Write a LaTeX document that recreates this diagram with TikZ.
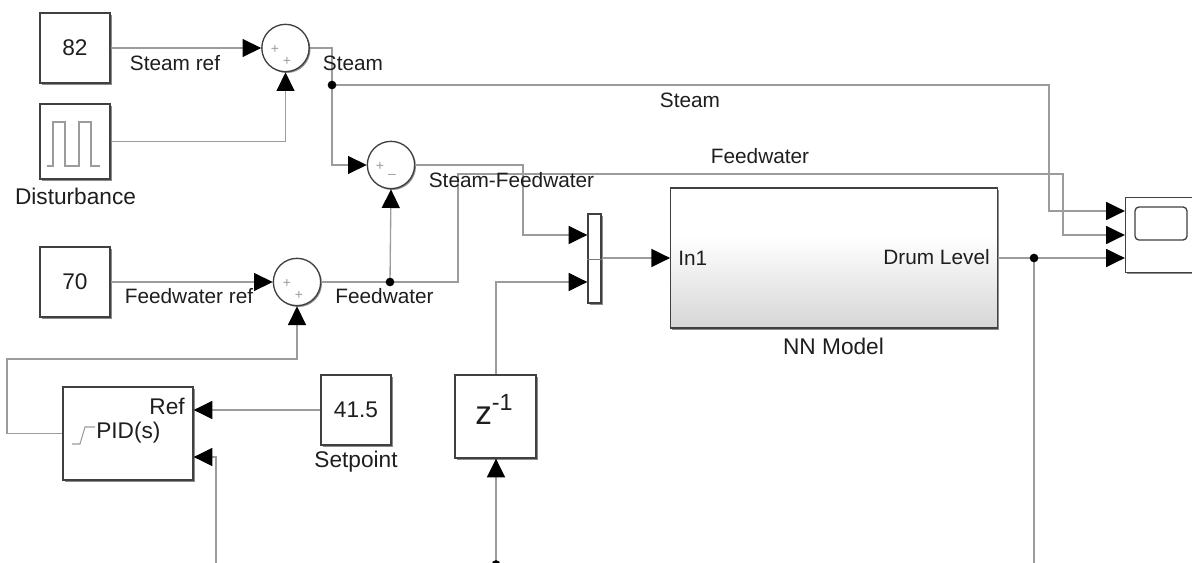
\documentclass[tikz,border=0pt]{standalone}
\usepackage{fontspec}
\setmainfont{Liberation Sans}
\usetikzlibrary{arrows.meta,shadows}
\definecolor{wire}{HTML}{9C9C9C}
\definecolor{edge}{HTML}{404040}
\definecolor{txt}{HTML}{1E1E1E}
\pgfdeclareverticalshading{nnshade}{100bp}{color(0bp)=(black!16); color(25bp)=(black!16); color(58bp)=(white); color(100bp)=(white)}
\newcommand{\sig}{\fontsize{15.6pt}{18pt}\selectfont}
\newcommand{\nam}{\fontsize{17pt}{20pt}\selectfont}
\tikzset{
  x=0.75pt,y=-0.75pt,
  blockbox/.style 2 args={draw=edge,line width=1pt,fill=white,inner sep=0pt,
    minimum width=#1*0.75pt,minimum height=#2*0.75pt,text=txt,font=\nam,
    drop shadow={shadow xshift=1.3pt,shadow yshift=-1.3pt,opacity=.45,fill=black}},
  sumnode/.style={draw=edge,line width=1pt,fill=white,circle,inner sep=0pt,minimum size=35.5pt,
    drop shadow={shadow xshift=1pt,shadow yshift=-1pt,opacity=.45,fill=black}},
  wireline/.style={draw=wire,line width=1pt},
  arrowline/.style={wireline,-{Triangle[length=14pt,width=13.5pt,color=black]}},
  dot/.style={circle,fill=black,inner sep=0pt,minimum size=6.5pt},
  sl/.style={text=txt,font=\sig,inner sep=0pt},
  nl/.style={text=txt,font=\nam,inner sep=0pt},
  sign/.style={text=wire,font=\fontsize{10.5pt}{10pt}\selectfont,inner sep=0pt},
  icon/.style={draw=wire,line width=0.8pt},
}
\begin{document}
\begin{tikzpicture}
\clip (0,0) rectangle (1192,563);
% blocks
\node[blockbox={70}{70}] (c82) at (75,48) {82};
\node[blockbox={70}{75}] (dist) at (75,141.5) {};
\node[blockbox={70}{70}] (c70) at (75,282) {70};
\node[blockbox={70}{70}] (sp) at (356,410) {41.5};
\node[blockbox={130}{93}] (pid) at (128,433.5) {};
\node[blockbox={81}{83}] (zd) at (495.5,416.5) {};
\node[blockbox={13}{89}] (mux) at (594.5,258.5) {};
\node[blockbox={326.5}{140},shading=nnshade] (nn) at (834,258) {};
\node[blockbox={100}{74.5}] (scope) at (1175.5,235) {};
\node[sumnode] (s1) at (285.5,48) {};
\node[sumnode] (s2) at (391,165) {};
\node[sumnode] (s3) at (297,282) {};
% junctions
\coordinate (jst) at (332,85);
\coordinate (jfw) at (390,282);
\coordinate (jdl) at (1034,258);
\coordinate (jb) at (496,564.5);
\coordinate (bl) at (216,563.3);
\coordinate (br) at (1034,563.3);
% wires
\draw[arrowline] (c82.east) -- (s1.west);
\draw[arrowline] (dist.east) -| (s1.south);
\draw[wireline] (s1.east) -| (jst);
\draw[arrowline] (jst) |- (s2.west);
\draw[arrowline] (s2.east) -- (523,165) |- (mux.west |- 0,235);
\draw[arrowline] (jst) -- (1049,85) |- (scope.west |- 0,211);
\draw[arrowline] (c70.east) -- (s3.west);
\draw[wireline] (s3.east) -- (jfw);
\draw[arrowline] (jfw) -- (s2.south);
\draw[arrowline] (jfw) -- (458,282) -- (458,174) -- (1063,174) |- (scope.west |- 0,235);
\draw[arrowline] (pid.west) -- (7,433.5) -- (7,359) -| (s3.south);
\draw[arrowline] (sp.west) -- (pid.east |- sp.west);
\draw[arrowline] (zd.north -| jb) |- (mux.west |- 0,282);
\draw[arrowline] (mux.east |- nn.west) -- (nn.west);
\draw[arrowline] (nn.east) -- (scope.west |- jdl);
\draw[wireline] (jdl) -- (br);
\draw[wireline] (br) -- (bl);
\draw[arrowline] (bl) |- (pid.east |- 0,457);
\draw[arrowline] (jb) -- (zd.south -| jb);
\node[dot] (djst) at (jst) {};
\node[dot] (djfw) at (jfw) {};
\node[dot] (djdl) at (jdl) {};
\node[dot] (djb) at (jb) {};
% block interiors
\draw[icon] (47,166) -- (53,166) -- (53,122) -- (65,122) -- (65,166) -- (79,166) -- (79,122) -- (91,122) -- (91,166) -- (100,166);
\draw[icon] (72,444) -- (80,444) -- (85,427) -- (95,427);
\draw[line width=.7pt,draw=edge!70] (mux.west |- 0,259) -- (mux.east |- 0,259);
\draw[line width=1pt,draw=edge,rounded corners=3pt] (1135,207) rectangle (1187,240);
% signs
\node[sign] (p1a) at (275,49) {+};
\node[sign] (p1b) at (287,61) {+};
\node[sign] (p2a) at (380,166) {+};
\node[sign] (p2b) at (392,176) {–};
\node[sign] (p3a) at (287,283) {+};
\node[sign] (p3b) at (299,295) {+};
% labels
\node[nl] (tdist) at (75.5,196) {Disturbance};
\node[nl] (tsp) at (356,462) {Setpoint};
\node[nl] (tnn) at (833.5,346) {NN Model};
\node[nl,anchor=east] (tref) at (185,406) {Ref};
\node[nl,anchor=west] (tpid) at (96,433) {PID(s)};
\node[sl,anchor=west] (tin) at (678,258) {In1};
\node[sl,anchor=east] (tdl) at (990,257) {Drum Level};
\node[sl] (t1) at (175,63) {Steam ref};
\node[sl] (t2) at (353,63) {Steam};
\node[sl] (t3) at (690,100) {Steam};
\node[sl] (t4) at (760,156) {Feedwater};
\node[sl] (t5) at (511.5,180) {Steam-Feedwater};
\node[sl] (t6) at (189,296) {Feedwater ref};
\node[sl] (t7) at (384.5,296) {Feedwater};
\node[text=txt,inner sep=0pt,font=\fontsize{25pt}{28pt}\selectfont] (tz) at (494,409) {z\raisebox{.42em}{\fontsize{17.5pt}{20pt}\selectfont -1}};
\end{tikzpicture}
\end{document}
